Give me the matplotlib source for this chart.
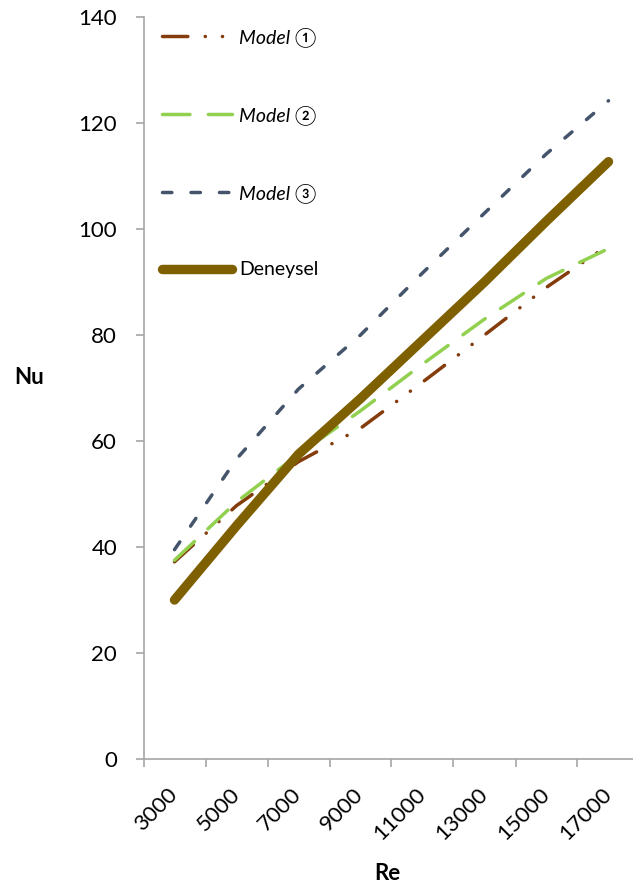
import matplotlib
matplotlib.use("Agg")
import matplotlib.pyplot as plt
import numpy as np

# category labels (Re) and series values (Nu)
re_labels = ["3000", "5000", "7000", "9000", "11000", "13000", "15000", "17000"]
model1 = [37.2, 47.8, 56.1, 62.4, 71.1, 80.0, 89.0, 97.0]
model2 = [37.5, 48.5, 57.5, 65.7, 74.5, 83.0, 90.7, 96.3]
model3 = [39.5, 56.6, 69.8, 80.0, 91.7, 103.0, 114.2, 124.2]
deneysel = [30.0, 44.0, 57.5, 68.0, 79.0, 90.0, 101.5, 112.7]

W, H = 633, 893
fig = plt.figure(figsize=(W / 100, H / 100), dpi=100)
# plot area runs slightly past the right edge, as in the reference
ax = fig.add_axes([143.5 / W, 134 / H, 496 / W, 742 / H])

x = np.arange(len(re_labels))
lw = 2.5
l1, = ax.plot(x, model1, color="#843C0C", lw=lw, dashes=(7.3, 5.0, 0.05, 4.9, 0.05, 5.0),
              dash_capstyle="round", solid_capstyle="round", label="Model \u2460", zorder=2)
l2, = ax.plot(x, model2, color="#92D050", lw=lw, dashes=(7.9, 5.3),
              dash_capstyle="round", label="Model \u2461", zorder=3)
l3, = ax.plot(x, model3, color="#44546A", lw=lw, dashes=(2.7, 5.5),
              dash_capstyle="round", label="Model \u2462", zorder=4)
l4, = ax.plot(x, deneysel, color="#7F6000", lw=6.8, solid_capstyle="round",
              solid_joinstyle="round", label="Deneysel", zorder=5)

ax.set_xlim(-0.5, 7.5)
ax.set_ylim(0, 140)

spine_c = "#A6A6A6"
for s in ["top", "right"]:
    ax.spines[s].set_visible(False)
for s in ["left", "bottom"]:
    ax.spines[s].set_color(spine_c)
    ax.spines[s].set_linewidth(1.2)

ax.set_yticks(np.arange(0, 141, 20))
ax.tick_params(axis="y", direction="out", length=6, width=1.2, color=spine_c,
               pad=13, labelsize=16)
for t in ax.get_yticklabels():
    t.set_family(["Lato", "DejaVu Sans"])

# tick marks between categories, labels at category centres
ax.set_xticks(np.arange(-0.5, 7.6, 1.0))
ax.set_xticklabels([])
ax.set_xticks(x, minor=True)
ax.set_xticklabels(re_labels, minor=True, rotation=45, ha="right", va="center",
                   rotation_mode="anchor", family=["Lato", "DejaVu Sans"], fontsize=16)
ax.tick_params(axis="x", which="major", direction="out", length=6, width=1.2, color=spine_c)
ax.tick_params(axis="x", which="minor", length=0, pad=23)

fig.text(29.5 / W, 1 - 377 / H, "Nu", ha="center", va="center", fontsize=16,
         fontweight="bold", family=["Lato", "DejaVu Sans"])
fig.text(387 / W, 1 - 873 / H, "Re", ha="center", va="center", fontsize=16,
         fontweight="bold", family=["Lato", "DejaVu Sans"])

leg = ax.legend(handles=[l1, l2, l3, l4], loc="upper left",
                bbox_to_anchor=(162 / W, 1 - 27 / H), bbox_transform=fig.transFigure,
                frameon=False, borderpad=0, borderaxespad=0, handlelength=3.6,
                handletextpad=0.36, labelspacing=3.0,
                prop={"family": ["Lato", "Noto Sans CJK JP", "DejaVu Sans"], "size": 14})
for t in leg.get_texts()[:3]:
    t.set_fontstyle("italic")

fig.savefig("out.png", dpi=100)
